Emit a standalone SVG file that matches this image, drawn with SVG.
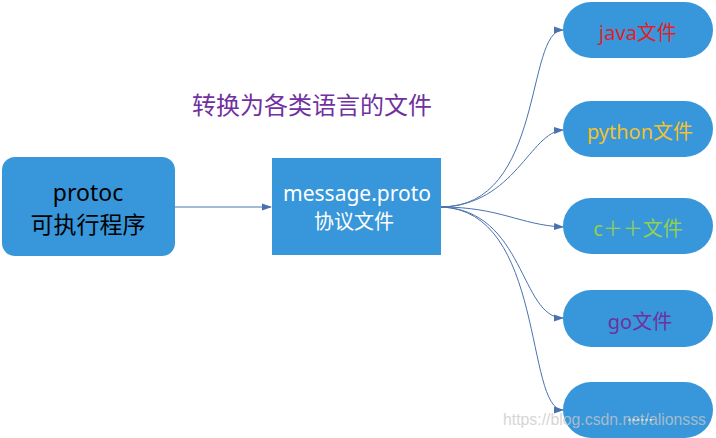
<svg xmlns="http://www.w3.org/2000/svg" width="716" height="438" viewBox="0 0 716 438">
<defs>
<marker id="arr" markerWidth="10" markerHeight="8" refX="9" refY="4" orient="auto" markerUnits="userSpaceOnUse">
<path d="M0,0.5 L10,4 L0,7.5 Z" fill="#4a72b0"/>
</marker>
<style>
.box{fill:#3797da}
.t{font-family:"Noto Sans","Noto Sans CJK SC",sans-serif;text-anchor:middle}
.c{fill:none;stroke:#4a72b0;stroke-width:1;marker-end:url(#arr)}
</style>
</defs>
<rect width="716" height="438" fill="#fff"/>
<text class="t" x="312" y="114" font-size="24" fill="#7030a0">转换为各类语言的文件</text>
<g id="connectors">
<path class="c" d="M175,207 L271,207"/>
<path class="c" d="M441,207 C545,207 525,30 563,30"/>
<path class="c" d="M441,207 C515,205 530,132 563,130"/>
<path class="c" d="M441,207 C500,207 520,225 563,227"/>
<path class="c" d="M441,207 C525,210 520,318 563,318"/>
<path class="c" d="M441,207 C545,210 525,410 563,410"/>
</g>
<g id="protoc">
<rect class="box" x="2" y="157" width="173" height="99" rx="13"/>
<text class="t" x="88" y="201" font-size="23" fill="#000">protoc</text>
<text class="t" x="88" y="233" font-size="23" fill="#000">可执行程序</text>
</g>
<g id="message">
<rect class="box" x="272" y="158" width="169" height="97"/>
<text class="t" x="357" y="201" font-size="21" fill="#fff">message.proto</text>
<text class="t" x="354" y="229" font-size="20" fill="#fff">协议文件</text>
</g>
<g id="java">
<rect class="box" x="563" y="2" width="150" height="56" rx="28"/>
<text class="t" x="638" y="40" font-size="20" fill="#e0202a">java文件</text>
</g>
<g id="python">
<rect class="box" x="563" y="101" width="150" height="56" rx="28"/>
<text class="t" x="640" y="139" font-size="20" fill="#f2c12e">python文件</text>
</g>
<g id="cpp">
<rect class="box" x="563" y="198" width="150" height="56" rx="28"/>
<text class="t" x="638" y="236" font-size="20" fill="#92d050">c＋＋文件</text>
</g>
<g id="go">
<rect class="box" x="563" y="290" width="150" height="57" rx="28"/>
<text class="t" x="640" y="329" font-size="20" fill="#7030a0">go文件</text>
</g>
<g id="more">
<rect class="box" x="563" y="382" width="150" height="56" rx="28"/>
<text class="t" x="640" y="421" font-size="16" fill="#fff">......</text>
</g>
<text x="503" y="425" font-family="Liberation Sans, sans-serif" font-size="16" textLength="203" lengthAdjust="spacingAndGlyphs" fill="#c8c8c8" opacity="0.75">https://blog.csdn.net/alionsss</text>
</svg>
